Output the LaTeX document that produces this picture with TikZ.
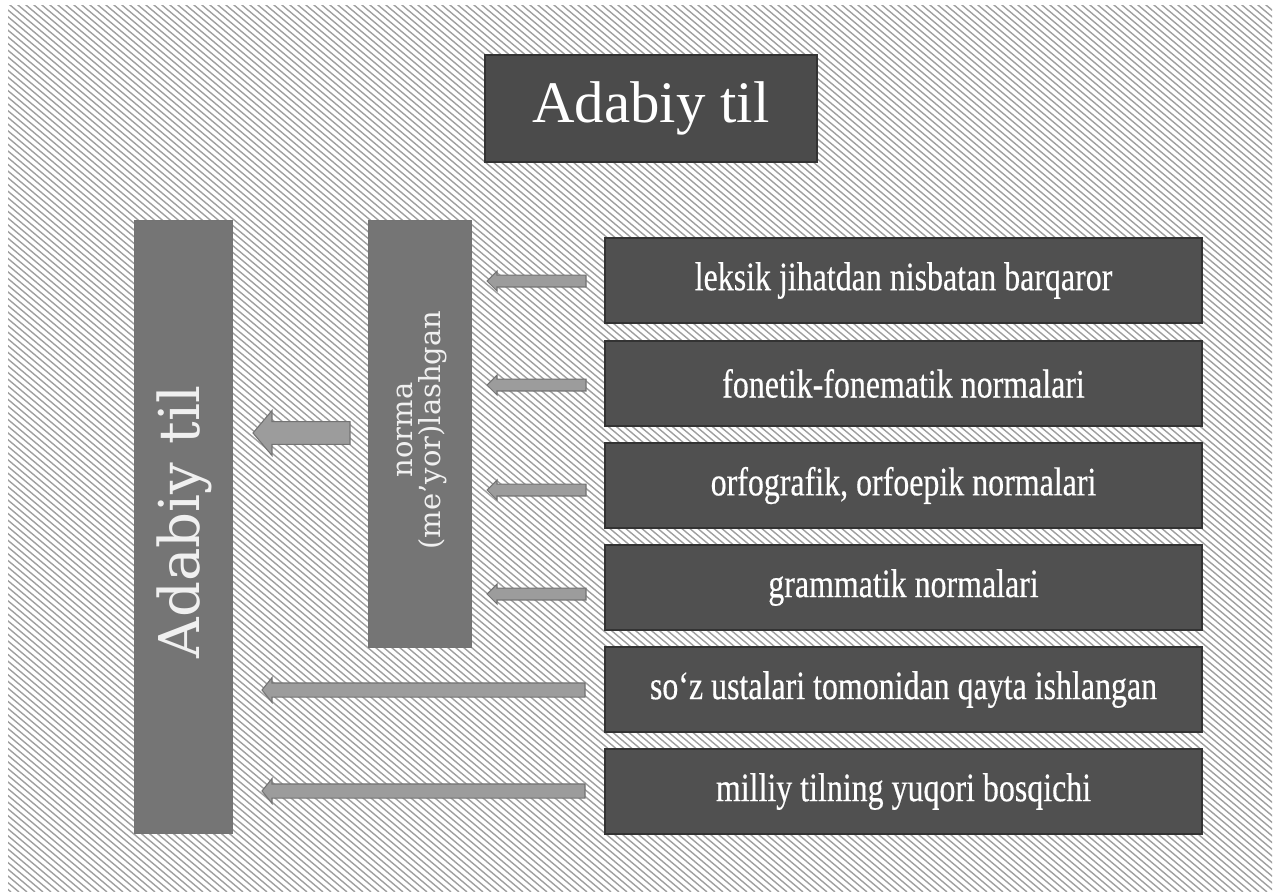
\documentclass[tikz,border=0pt]{standalone}
\usepackage{fontspec}
\setmainfont{Liberation Serif}
\newfontfamily\boxfont[FakeStretch=0.79,FakeBold=0.4]{Liberation Serif}
\newfontfamily\slabfont{DejaVu Serif}
\usetikzlibrary{calc}

\def\px{0.02cm}

\definecolor{darkbox}{HTML}{505050}
\definecolor{titlefill}{HTML}{4B4B4B}
\definecolor{sidebox}{HTML}{757575}
\definecolor{arrowfill}{HTML}{9C9C9C}
\definecolor{arrowedge}{HTML}{737373}

\tikzset{
  hatch/.style={gray!75, line width=0.8pt},
  titlebox/.style={draw=black!80, line width=0.8pt, fill=titlefill, text=white,
    minimum width={332*\px}, minimum height={107*\px}, inner sep=0pt,
    font=\fontsize{33.5}{36}\selectfont},
  rowbox/.style={draw=black!80, line width=0.8pt, fill=darkbox, text=white,
    minimum width={597*\px}, minimum height={85*\px}, inner sep=0pt,
    font=\boxfont\fontsize{23}{25}\selectfont},
  sidebar/.style={draw=black!55, line width=0.5pt, fill=sidebox, inner sep=0pt},
  vtext/.style={rotate=90, text=gray!12, inner sep=0pt, align=center},
  arrowshape/.style={fill=arrowfill, draw=arrowedge, line width=0.6pt},
}

% block arrow: #1 tail, #2 tip, #3 half body, #4 half head, #5 head length
\newcommand\blockarrow[5]{%
  \draw[arrowshape] let \p1=(#1), \p2=(#2) in
    (\x1,\y1+#3) -- (\x2+#5,\y1+#3) -- (\x2+#5,\y1+#4) -- (\x2,\y2)
    -- (\x2+#5,\y1-#4) -- (\x2+#5,\y1-#3) -- (\x1,\y1-#3) -- cycle;}

\begin{document}
\begin{tikzpicture}[x=0.02cm, y=-0.02cm]
  \useasboundingbox (0,0) rectangle (1278,892);
  \fill[white] (0,0) rectangle (1278,892);

  % diagonal hatching of the page
  \begin{scope}
    \clip (8,6) rectangle (1272,892);
    \foreach \i in {-1100,-1092,...,1280}
      \draw[hatch] (\i,0) -- ++(1063,892);
  \end{scope}

  % title
  \node[titlebox] (title) at (651,108.5) {Adabiy til};

  % left columns
  \node[sidebar, minimum width={98*\px}, minimum height={613*\px}] (lit) at (183,526.5) {};
  \node[vtext, font=\slabfont\fontsize{32}{34}\selectfont] (littext) at (184,522) {Adabiy til};

  \node[sidebar, minimum width={103*\px}, minimum height={427*\px}] (norm) at (419.5,433.5) {};
  \node[vtext, font=\slabfont\fontsize{16.5}{15.5}\selectfont] (normtext) at (422,430)
    {norma\\(me’yor)lashgan};

  % right column of features
  \node[rowbox] (r1) at (903.5,280.5) {leksik jihatdan nisbatan barqaror};
  \node[rowbox] (r2) at (903.5,383.5) {fonetik-fonematik normalari};
  \node[rowbox] (r3) at (903.5,485.5) {orfografik, orfoepik normalari};
  \node[rowbox] (r4) at (903.5,587.5) {grammatik normalari};
  \node[rowbox] (r5) at (903.5,689.5) {so‘z ustalari tomonidan qayta ishlangan};
  \node[rowbox] (r6) at (903.5,791.5) {milliy tilning yuqori bosqichi};

  % arrow end points
  \coordinate (t1) at (586,281); \coordinate (h1) at (487,281);
  \coordinate (t2) at (586,385); \coordinate (h2) at (487,385);
  \coordinate (t3) at (586,490); \coordinate (h3) at (487,490);
  \coordinate (t4) at (586,594); \coordinate (h4) at (487,594);
  \coordinate (tn) at (350,433); \coordinate (hn) at (253,433);
  \coordinate (t5) at (585,690); \coordinate (h5) at (262,690);
  \coordinate (t6) at (585,791); \coordinate (h6) at (262,791);

  % arrows from the features to the norm column
  \blockarrow{t1}{h1}{3.4pt}{5.7pt}{5.7pt}
  \blockarrow{t2}{h2}{3.4pt}{5.7pt}{5.7pt}
  \blockarrow{t3}{h3}{3.4pt}{5.7pt}{5.7pt}
  \blockarrow{t4}{h4}{3.4pt}{5.7pt}{5.7pt}

  % arrow from the norm column to the main column
  \blockarrow{tn}{hn}{6.5pt}{12.8pt}{10.8pt}

  % long arrows to the main column
  \blockarrow{t5}{h5}{4pt}{7.1pt}{5.7pt}
  \blockarrow{t6}{h6}{4pt}{7.1pt}{5.7pt}
\end{tikzpicture}
\end{document}
